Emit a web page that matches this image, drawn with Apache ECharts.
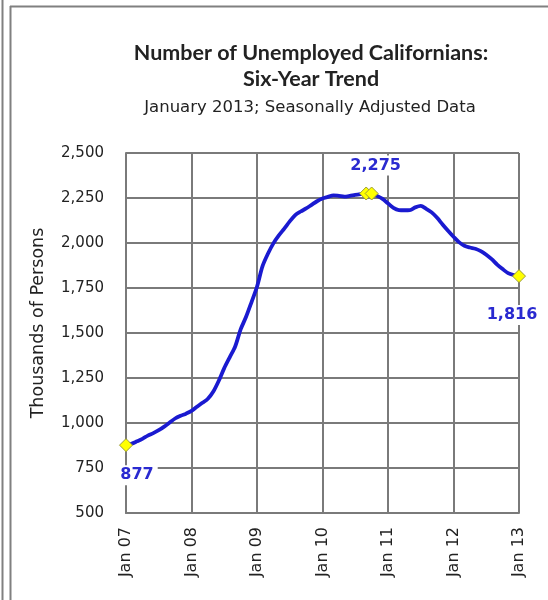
<!DOCTYPE html>
<html>
<head>
<meta charset="utf-8">
<script src="https://cdn.jsdelivr.net/npm/echarts@6/dist/echarts.min.js"></script>
<style>html,body{margin:0;padding:0;background:#fff;}#c{width:548px;height:600px;}</style>
</head>
<body>
<div id="c"></div>
<script>
// Monthly categories Jan 2007 .. Jan 2013
const monthNames = ["Jan","Feb","Mar","Apr","May","Jun","Jul","Aug","Sep","Oct","Nov","Dec"];
const categories = [];
for (let y = 7; y <= 13; y++) {
  for (let m = 0; m < 12; m++) {
    if (y === 13 && m > 0) break;
    categories.push(monthNames[m] + " " + String(y).padStart(2, "0"));
  }
}
// Unemployed Californians, thousands
const unemployed = [
  877, 885, 898, 912, 930, 944, 960, 980, 1003, 1025, 1040, 1052,
  1067, 1090, 1112, 1135, 1175, 1235, 1305, 1365, 1425, 1520, 1590, 1672,
  1757, 1870, 1940, 1998, 2042, 2080, 2120, 2155, 2175, 2192, 2212, 2232,
  2247, 2256, 2265, 2262, 2258, 2262, 2268, 2272, 2275, 2275, 2262, 2245,
  2220, 2195, 2183, 2182, 2183, 2198, 2206, 2190, 2170, 2140, 2103, 2068,
  2035, 2005, 1985, 1975, 1968, 1955, 1935, 1910, 1880, 1855, 1833, 1822,
  1816
];
// Highlighted points (first, peak months, last)
const highlightIdx = [0, 44, 45, 72];
const labelOffsets = {0: [11, 30], 45: [4, -28], 72: [-7, 39]};
const yTicks = [500, 750, 1000, 1250, 1500, 1750, 2000, 2250, 2500];

const seriesData = unemployed.map((v, i) => {
  if (highlightIdx.indexOf(i) < 0) return {value: v, symbol: 'none'};
  const item = {
    value: v,
    symbol: 'diamond',
    symbolSize: 13,
    itemStyle: {color: '#ffff00', borderColor: '#9a9a3a', borderWidth: 1}
  };
  if (labelOffsets[i]) {
    item.label = {
      show: true,
      position: 'inside',
      offset: labelOffsets[i],
      formatter: (p) => p.value.toLocaleString('en-US'),
      color: '#2a2ad0',
      fontWeight: 'bold',
      fontSize: 16,
      fontFamily: 'DejaVu Sans',
      backgroundColor: '#ffffff',
      padding: [2, 4, 2, 4]
    };
  } else {
    item.label = {show: false};
  }
  return item;
});

const chart = echarts.init(document.getElementById('c'), null, {renderer: 'canvas'});
const isYear = (i) => i % 12 === 0;
chart.setOption({
  backgroundColor: '#ffffff',
  animation: false,
  title: [
    {text: 'Number of Unemployed Californians:\nSix-Year Trend', left: 306, top: 35, textAlign: 'center',
     textStyle: {fontFamily: 'Lato', fontSize: 21.5, fontWeight: 'bold', color: '#222', lineHeight: 26}},
    {text: 'January 2013; Seasonally Adjusted Data', left: 305, top: 94, textAlign: 'center',
     textStyle: {fontFamily: 'DejaVu Sans', fontSize: 16.5, fontWeight: 'normal', color: '#222'}}
  ],
  grid: {left: 126, right: 29, top: 153, bottom: 87},
  xAxis: {
    type: 'category',
    data: categories,
    boundaryGap: false,
    axisLine: {show: true, lineStyle: {color: '#7a7a7a', width: 2}},
    axisTick: {show: false},
    axisLabel: {interval: (i) => isYear(i), rotate: 90, margin: 14, fontFamily: 'DejaVu Sans', fontSize: 16, color: '#222'},
    splitLine: {show: true, interval: (i) => isYear(i), lineStyle: {color: '#7a7a7a', width: 2}}
  },
  yAxis: {
    type: 'value',
    min: 500, max: 2500, interval: 250,
    name: 'Thousands of Persons',
    nameLocation: 'middle',
    nameGap: 79,
    nameRotate: 90,
    nameTextStyle: {fontFamily: 'DejaVu Sans', fontSize: 17.5, color: '#222', padding: [0, 0, 0, 20]},
    axisLine: {show: true, lineStyle: {color: '#7a7a7a', width: 2}},
    axisTick: {show: false},
    axisLabel: {margin: 22, fontFamily: 'DejaVu Sans', fontSize: 15, color: '#222',
      formatter: (v) => yTicks.indexOf(v) >= 0 ? v.toLocaleString('en-US') : ''},
    splitLine: {show: true, lineStyle: {color: '#7a7a7a', width: 2}}
  },
  series: [{
    type: 'line',
    data: seriesData,
    smooth: 0.3,
    showSymbol: true,
    showAllSymbol: true,
    lineStyle: {color: '#1a1ad0', width: 3.8},
    itemStyle: {color: '#1a1ad0'},
    z: 5
  }],
  graphic: [
    {type: 'line', shape: {x1: 2.5, y1: 0, x2: 2.5, y2: 600}, style: {stroke: '#808080', lineWidth: 2}},
    {type: 'line', shape: {x1: 10.5, y1: 6, x2: 10.5, y2: 600}, style: {stroke: '#808080', lineWidth: 2}},
    {type: 'line', shape: {x1: 10, y1: 6.5, x2: 548, y2: 6.5}, style: {stroke: '#808080', lineWidth: 2}}
  ]
});
</script>
</body>
</html>
